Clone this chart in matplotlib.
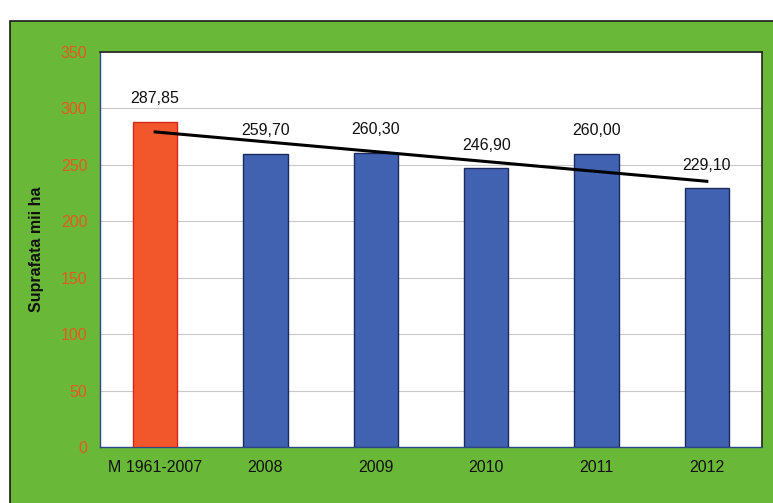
import numpy as np
import matplotlib
matplotlib.use("Agg")
import matplotlib.pyplot as plt
from matplotlib.patches import Rectangle

plt.rcParams["font.family"] = ["Liberation Sans", "DejaVu Sans"]

# date
categorii = ["M 1961-2007", "2008", "2009", "2010", "2011", "2012"]
suprafata = [287.85, 259.70, 260.30, 246.90, 260.00, 229.10]
etichete = ["287,85", "259,70", "260,30", "246,90", "260,00", "229,10"]
y_ticks = [0, 50, 100, 150, 200, 250, 300, 350]

verde = "#6ab838"
culori = ["#f2572b"] + ["#4062b0"] * 5
margini = ["#d8261a"] + ["#1c2a5c"] * 5

fig = plt.figure(figsize=(7.73, 5.03), dpi=100)
fig.patch.set_facecolor("white")

# cadrul verde
W, H = 773, 503
fig.patches.append(Rectangle((10 / W, -0.01), 1.0, 1 - 21 / H + 0.01,
                             transform=fig.transFigure, facecolor=verde,
                             edgecolor="#1a1a1a", linewidth=1.2, zorder=-5))

ax = fig.add_axes([100 / W, 56 / H, 662 / W, 395 / H])
ax.set_zorder(1)
ax.set_facecolor("white")

x = np.arange(len(categorii))
ax.bar(x, suprafata, width=0.4, color=culori, edgecolor=margini, linewidth=1, zorder=3)

# linie de tendinta (liniara)
p = np.polyfit(x, suprafata, 1)
ax.plot([x[0], x[-1]], np.polyval(p, [x[0], x[-1]]), color="black", linewidth=2.2, zorder=4)

for xi, v, t in zip(x, suprafata, etichete):
    ax.text(xi, v + 14, t, ha="center", va="bottom", fontsize=11.5, color="#111111", zorder=5)

ax.set_xlim(-0.5, len(categorii) - 0.5)
ax.set_ylim(0, 350)
ax.set_yticks(y_ticks)
ax.set_yticklabels([str(t) for t in y_ticks], color="#e8581f", fontsize=11.5)
ax.set_xticks(x)
ax.set_xticklabels(categorii, fontsize=11.5, color="#111111")
ax.tick_params(axis="both", length=0, pad=9)
ax.grid(axis="y", color="#c8c8c8", linewidth=0.8, zorder=0)

for s in ["left", "bottom"]:
    ax.spines[s].set_color("#2a4a8a")
    ax.spines[s].set_linewidth(1)
for s in ["top", "right"]:
    ax.spines[s].set_color("#222222")
    ax.spines[s].set_linewidth(1.2)

ax.set_ylabel("Suprafata mii ha", fontsize=11.5, fontweight="bold", color="#111111", labelpad=12)

fig.savefig("out.png", dpi=100, facecolor=fig.get_facecolor())
